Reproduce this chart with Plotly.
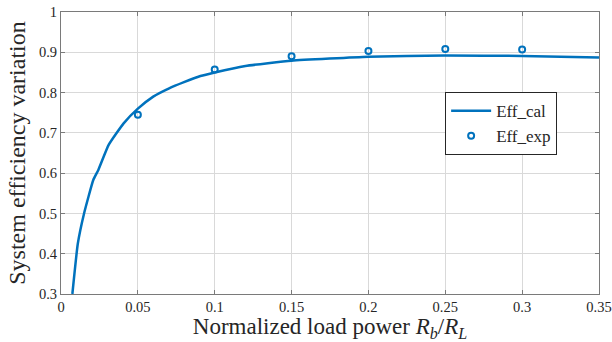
import plotly.graph_objects as go

# Calculated efficiency curve
x_cal = [0.0074, 0.0109, 0.015, 0.021, 0.0243, 0.031, 0.0406, 0.05, 0.06, 0.07, 0.08, 0.0907,
         0.1, 0.12, 0.15, 0.2, 0.25, 0.3, 0.35]
y_cal = [0.30, 0.424, 0.50, 0.583, 0.608, 0.670, 0.723, 0.760, 0.790, 0.810, 0.826, 0.841,
         0.850, 0.866, 0.879, 0.889, 0.892, 0.891, 0.887]

# Experimental points
x_exp = [0.05, 0.1, 0.15, 0.2, 0.25, 0.3]
y_exp = [0.745, 0.857, 0.890, 0.903, 0.908, 0.907]

x_ticks = [0, 0.05, 0.1, 0.15, 0.2, 0.25, 0.3, 0.35]
x_ticklabels = ["0", "0.05", "0.1", "0.15", "0.2", "0.25", "0.3", "0.35"]
y_ticks = [0.3, 0.4, 0.5, 0.6, 0.7, 0.8, 0.9, 1.0]
y_ticklabels = ["0.3", "0.4", "0.5", "0.6", "0.7", "0.8", "0.9", "1"]

blue = "#0072BD"
font = "Times New Roman, Liberation Serif, serif"
txt = "#262626"

fig = go.Figure()
fig.add_trace(go.Scatter(x=x_cal, y=y_cal, mode="lines", name="Eff_cal",
                         line=dict(color=blue, width=2.5, shape="spline", smoothing=0.4)))
fig.add_trace(go.Scatter(x=x_exp, y=y_exp, mode="markers", name="Eff_exp",
                         marker=dict(symbol="circle-open", size=6, color=blue,
                                     line=dict(width=2, color=blue))))

axis_common = dict(showgrid=True, gridcolor="#D9D9D9", gridwidth=1,
                   showline=True, linecolor="#7A7A7A", linewidth=1, mirror="ticks",
                   ticks="inside", ticklen=4, tickcolor="#7A7A7A",
                   zeroline=False, ticklabeloverflow="allow")

fig.update_xaxes(range=[0, 0.35], tickmode="array", tickvals=x_ticks, ticktext=x_ticklabels,
                 tickfont_family=font, tickfont_size=14.5, tickfont_color=txt,
                 title_text="Normalized load power <i>R<sub>b</sub></i>/<i>R<sub>L</sub></i>",
                 title_font_family=font, title_font_size=23, title_font_color=txt,
                 title_standoff=8,
                 **axis_common)
fig.update_yaxes(range=[0.3, 1.0], tickmode="array", tickvals=y_ticks, ticktext=y_ticklabels,
                 tickfont_family=font, tickfont_size=14.5, tickfont_color=txt,
                 title_text="System efficiency variation",
                 title_font_family=font, title_font_size=24, title_font_color=txt,
                 title_standoff=6,
                 **axis_common)

fig.update_layout(
    template="none",
    width=612, height=342,
    margin=dict(l=61, r=13, t=12, b=48, autoexpand=False),
    plot_bgcolor="white", paper_bgcolor="white",
    font=dict(family=font, color=txt, size=15),
    legend=dict(x=0.714, y=0.716, xanchor="left", yanchor="top",
                bgcolor="white", bordercolor="#262626", borderwidth=1,
                font=dict(family=font, size=17, color=txt),
                itemwidth=40),
    showlegend=True,
)

fig.write_html("out.html")
